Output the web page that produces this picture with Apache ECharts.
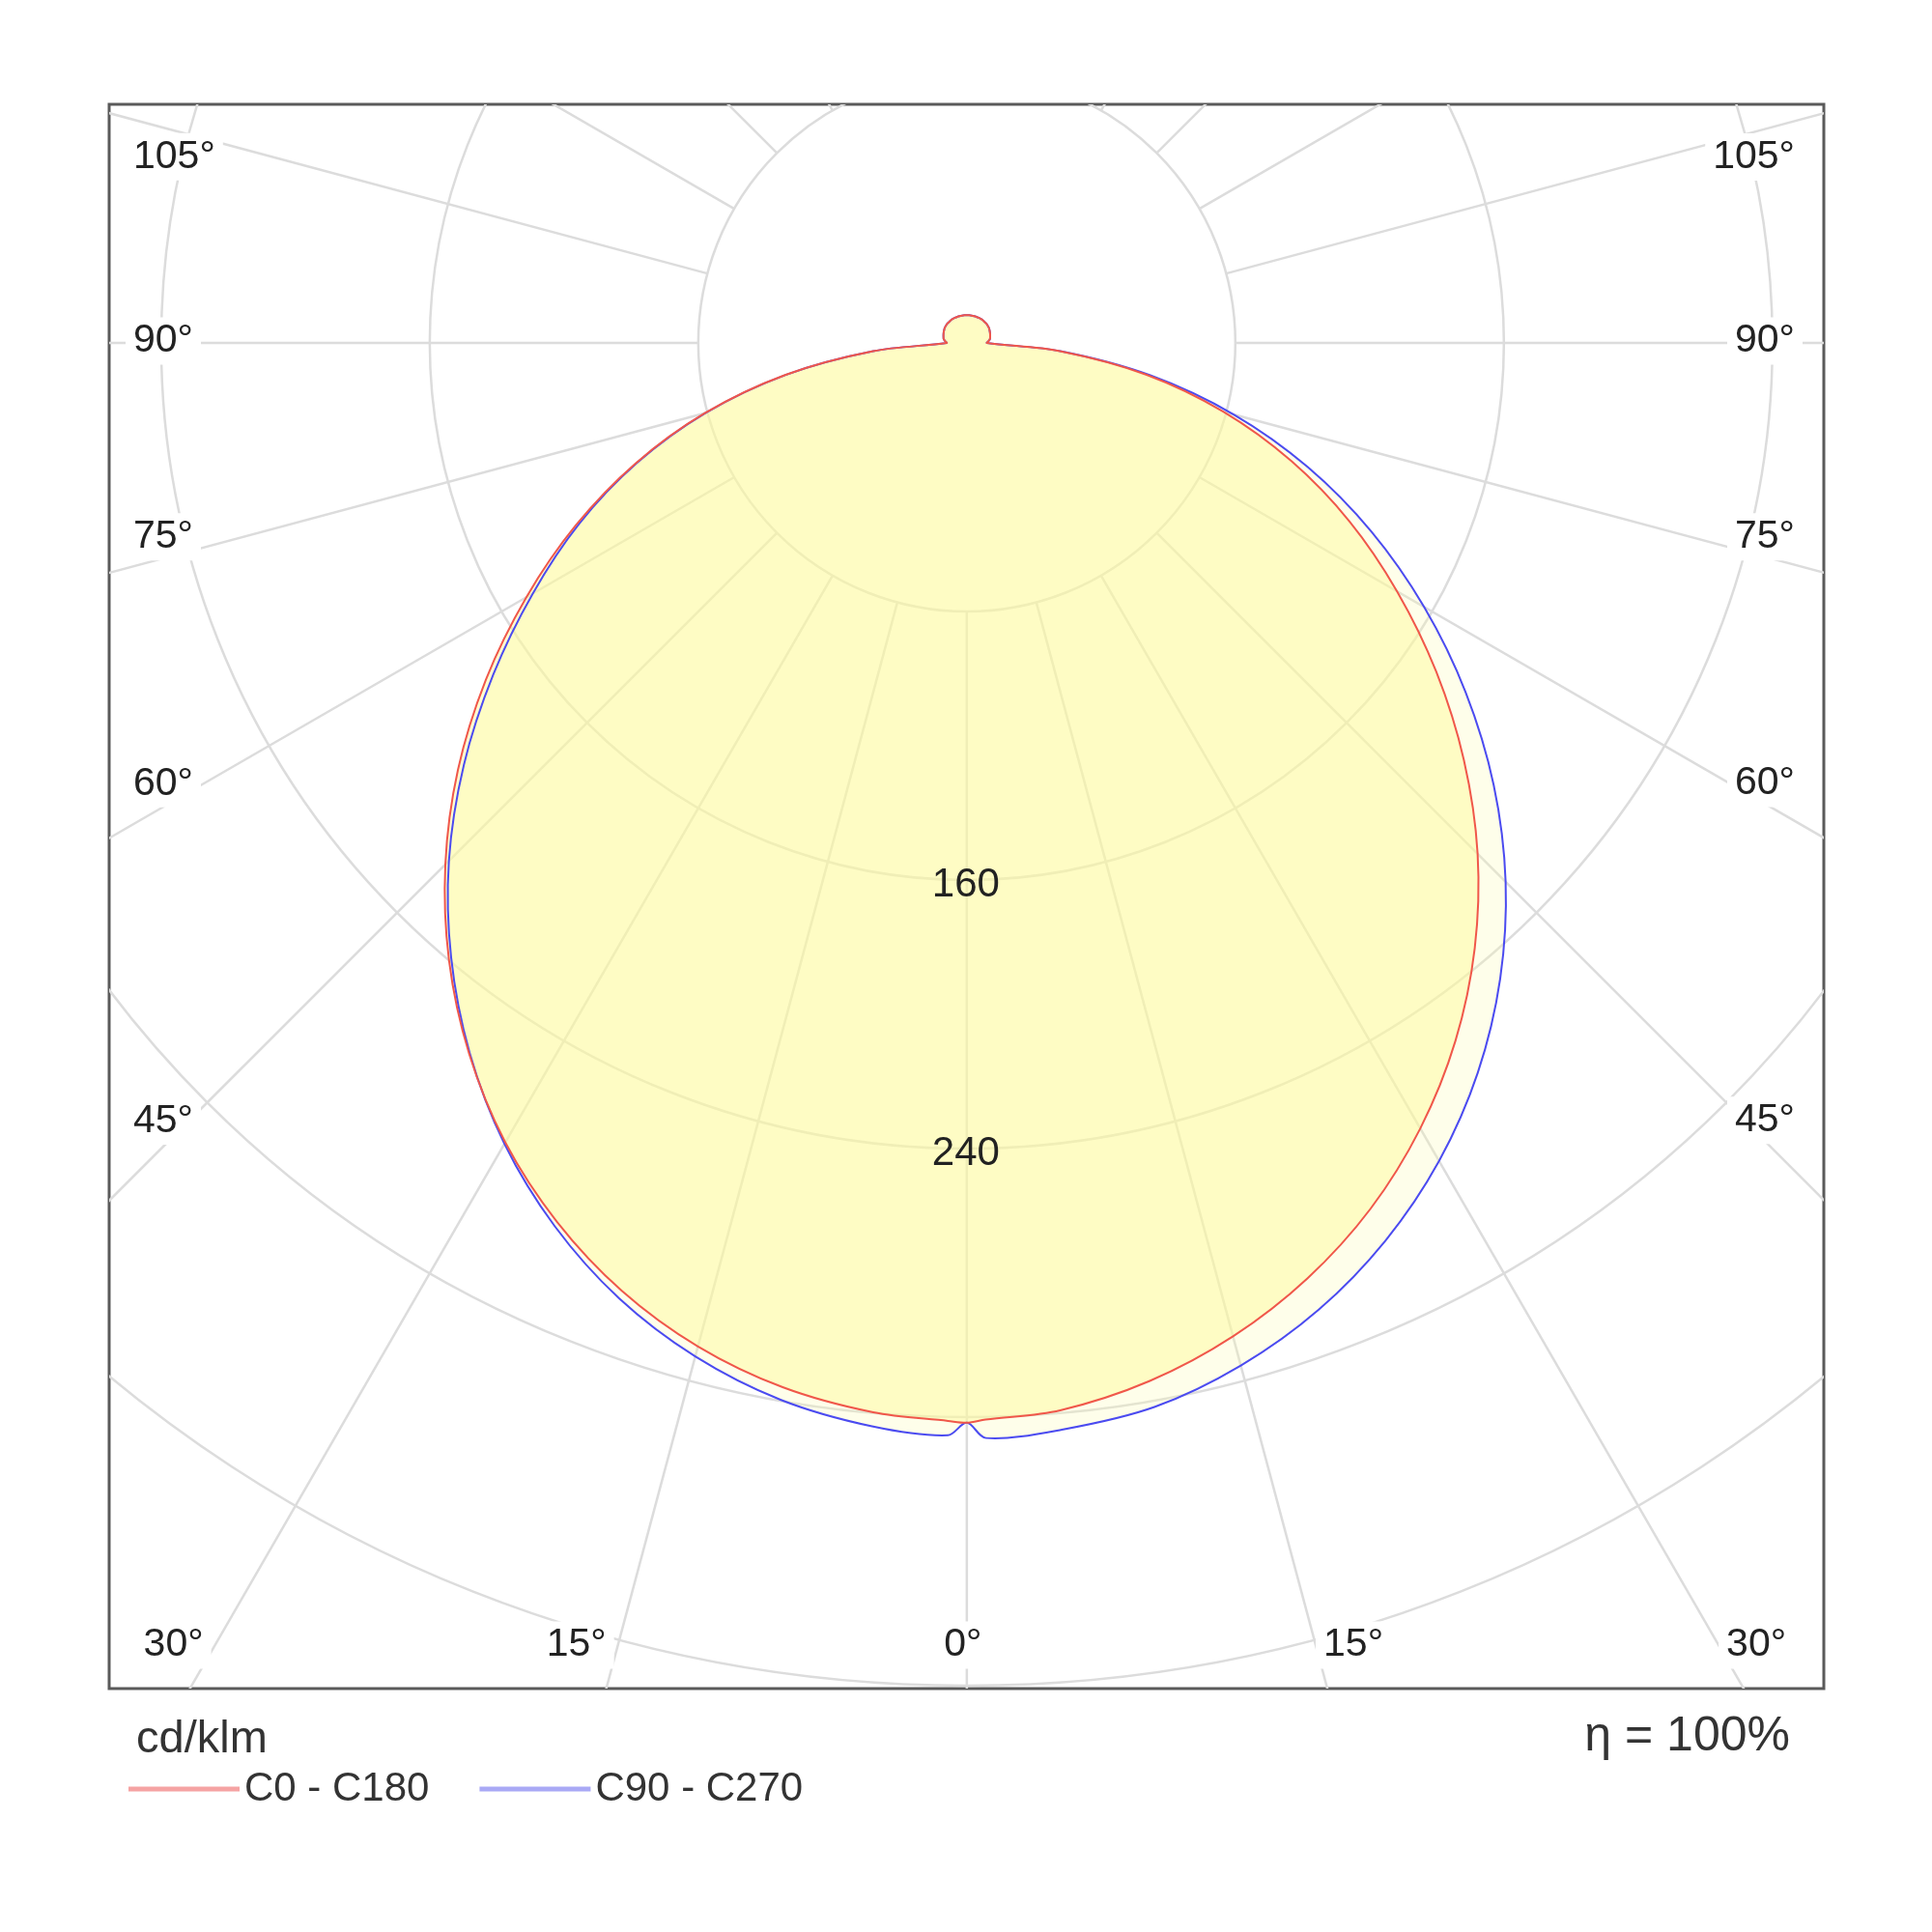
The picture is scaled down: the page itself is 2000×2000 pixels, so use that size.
<!DOCTYPE html>
<html>
<head>
<meta charset="utf-8">
<script src="https://cdn.jsdelivr.net/npm/echarts@6/dist/echarts.min.js"></script>
<style>
html,body{margin:0;padding:0;background:#fff;}
#chart{width:2000px;height:2000px;}
</style>
</head>
<body>
<div id="chart"></div>
<script>
// ---------- data (cd/klm) ----------
const angles = [0, 1, 5, 10, 15, 20, 25, 30, 35, 40, 45, 50, 55, 60, 65, 70, 75, 80, 85, 90,
  95, 100, 105, 110, 115, 120, 125, 130, 135, 140, 145, 150, 155, 160, 165, 170, 175, 180];
const c0 = [321.7, 320.8, 319.2, 314.0, 306.4, 296.6, 284.6, 270.2, 253.8, 235.4, 215.2, 193.3, 170.7, 148.0, 125.8, 102.9, 79.1, 54.2, 27.8, 6,
  6.5, 7, 7.2, 7.4, 7.6, 7.8, 8, 8.1, 8.2, 8.2, 8.3, 8.3, 8.3, 8.3, 8.3, 8.3, 8.3, 8.3];
const c180 = [321.7, 321.2, 319.8, 315.9, 309.5, 300.5, 288.9, 275.0, 258.5, 240.0, 219.7, 197.9, 174.9, 151.5, 128.5, 105.1, 80.8, 55.0, 28.0, 6,
  6.5, 7, 7.2, 7.4, 7.6, 7.8, 8, 8.1, 8.2, 8.2, 8.3, 8.3, 8.3, 8.3, 8.3, 8.3, 8.3, 8.3];
const c90 = [321.7, 326.3, 325.0, 321.9, 315.4, 306.5, 295.1, 281.4, 265.4, 247.2, 227.0, 204.9, 181.4, 157.3, 133.0, 108.1, 82.3, 55.5, 28.0, 6,
  6.5, 7, 7.2, 7.4, 7.6, 7.8, 8, 8.1, 8.2, 8.2, 8.3, 8.3, 8.3, 8.3, 8.3, 8.3, 8.3, 8.3];
const c270 = [321.7, 325.5, 324.0, 319.7, 312.6, 302.9, 290.4, 275.5, 258.2, 239.0, 218.2, 195.6, 172.2, 149.3, 127.4, 104.6, 80.5, 54.8, 28.0, 6,
  6.5, 7, 7.2, 7.4, 7.6, 7.8, 8, 8.1, 8.2, 8.2, 8.3, 8.3, 8.3, 8.3, 8.3, 8.3, 8.3, 8.3];

const ringValues = [80, 160, 240, 320, 400, 480];
const ringLabelValues = [160, 240];
const spokeAngles = [0, 15, 30, 45, 60, 75, 90, 105, 120, 135, 150, 165, 180, 195, 210, 225, 240, 255, 270, 285, 300, 315, 330, 345];
const spokeEnd = 700;
const angleLabelValues = [0, 15, 30, 45, 60, 75, 90, 105];

const seriesNames = ['C0 - C180', 'C90 - C270'];
const unitText = 'cd/klm';
const etaText = 'η = 100%';

// ---------- helpers ----------
const FONT = '"Liberation Sans", Arial, sans-serif';
const rad = d => d * Math.PI / 180;
function loopPoints(left, right) {
  const pts = [];
  for (let i = angles.length - 1; i >= 0; i--) {
    const a = rad(angles[i]);
    pts.push([-left[i] * Math.sin(a), left[i] * Math.cos(a)]);
  }
  for (let i = 1; i < angles.length - 1; i++) {
    const a = rad(angles[i]);
    pts.push([right[i] * Math.sin(a), right[i] * Math.cos(a)]);
  }
  return pts;
}
const redPts = loopPoints(c180, c0);
const bluePts = loopPoints(c270, c90);
const SMOOTH = 0.33;

function fillSeries(pts, color, z) {
  return {
    type: 'custom', z: z, silent: true, clip: true,
    data: [0],
    renderItem: (params, api) => ({
      type: 'polygon',
      shape: { points: pts.map(p => api.coord(p)), smooth: SMOOTH },
      style: { fill: color, stroke: 'none' }
    })
  };
}
function lineSeries(name, pts, color, z) {
  return {
    name: name, type: 'custom', z: z, silent: true, clip: true,
    data: [0],
    itemStyle: { color: color },
    renderItem: (params, api) => ({
      type: 'polygon',
      shape: { points: pts.map(p => api.coord(p)), smooth: SMOOTH },
      style: { fill: 'none', stroke: color, lineWidth: 2, lineJoin: 'round' }
    })
  };
}

const chart = echarts.init(document.getElementById('chart'), null, { renderer: 'canvas' });

const option = {
  animation: false,
  backgroundColor: '#fff',
  title: [
    { text: unitText, left: 136, top: 1773, textStyle: { fontFamily: FONT, fontSize: 47, fontWeight: 'normal', color: '#333' } },
    { text: etaText, right: 142, top: 1768, textStyle: { fontFamily: FONT, fontSize: 50, fontWeight: 'normal', color: '#333' } }
  ],
  legend: {
    left: 128, top: 1826, itemWidth: 115, itemHeight: 5, itemGap: 52,
    icon: 'rect',
    textStyle: { fontFamily: FONT, fontSize: 42, color: '#333' },
    data: [
      { name: seriesNames[0], itemStyle: { color: '#f5a3a3' } },
      { name: seriesNames[1], itemStyle: { color: '#a9a9f5' } }
    ]
  },
  grid: { left: 113, top: 108, width: 1775, height: 1640, show: true, borderColor: '#5a5a5a', borderWidth: 3, backgroundColor: '#fff' },
  xAxis: { type: 'value', min: -255.5, max: 255.3, show: false },
  yAxis: { type: 'value', min: -71.1, max: 400.9, inverse: true, show: false },
  series: [
    // polar grid
    {
      type: 'custom', z: 1, silent: true, clip: true, data: [0],
      renderItem: (params, api) => {
        const c = api.coord([0, 0]);
        const children = [];
        ringValues.forEach(R => {
          children.push({ type: 'circle', shape: { cx: c[0], cy: c[1], r: api.size([R, 0])[0] },
            style: { fill: 'none', stroke: '#dcdcdc', lineWidth: 2.5 } });
        });
        const r0 = api.size([ringValues[0], 0])[0];
        const r1 = api.size([spokeEnd, 0])[0];
        spokeAngles.forEach(d => {
          const s = Math.sin(rad(d)), co = Math.cos(rad(d));
          children.push({ type: 'line', shape: { x1: c[0] + r0 * s, y1: c[1] + r0 * co, x2: c[0] + r1 * s, y2: c[1] + r1 * co },
            style: { stroke: '#dcdcdc', lineWidth: 2.5 } });
        });
        return { type: 'group', children };
      }
    },
    fillSeries(bluePts, 'rgba(250,250,170,0.25)', 2),
    fillSeries(redPts, 'rgba(255,250,150,0.45)', 3),
    // ring value labels
    {
      type: 'custom', z: 4, silent: true, data: ringLabelValues,
      renderItem: (params, api) => {
        const v = ringLabelValues[params.dataIndex];
        const p = api.coord([0, v]);
        return { type: 'text', style: { text: String(v), x: p[0] - 1, y: p[1] + 5, align: 'center', verticalAlign: 'middle',
          fontFamily: FONT, fontSize: 42, fill: '#222' } };
      }
    },
    lineSeries(seriesNames[1], bluePts, '#4b4bf0', 5),
    lineSeries(seriesNames[0], redPts, '#f0574a', 6),
    // angle labels
    {
      type: 'custom', z: 7, silent: true, data: [0],
      renderItem: (params, api) => {
        const cs = params.coordSys;
        const L = cs.x, T = cs.y, R = cs.x + cs.width, B = cs.y + cs.height;
        const c = api.coord([0, 0]);
        const padV = 4, padH = 8;
        const children = [];
        const sides = [];
        angleLabelValues.forEach(a => { if (a === 0) sides.push([a, 0]); else { sides.push([a, -1]); sides.push([a, 1]); } });
        sides.forEach(([a, s]) => {
          const sn = Math.sin(rad(a)), co = Math.cos(rad(a));
          const tb = co > 1e-9 ? (B - c[1]) / co : Infinity;
          const tsd = s === 0 ? Infinity : ((s > 0 ? R - c[0] : c[0] - L) / sn);
          const st = { text: a + '°', fontFamily: FONT, fontSize: 41, fill: '#222', backgroundColor: '#fff', padding: [padV, padH] };
          if (tb < tsd) {
            const y = B - 45;
            const xr = c[0] + s * sn * (y - c[1]) / co;
            if (s < 0) { st.x = xr - 12 + padH; st.align = 'right'; }
            else if (s > 0) { st.x = xr + 8 - padH; st.align = 'left'; }
            else { st.x = xr - 4; st.align = 'center'; }
            st.y = y; st.verticalAlign = 'middle';
          } else {
            const xc = s < 0 ? L + 62 : R - 62;
            const yr = c[1] + co * Math.abs(xc - c[0]) / sn;
            st.x = s < 0 ? L + 25 - padH : R - 30 + padH;
            st.align = s < 0 ? 'left' : 'right';
            if (a < 90) { st.y = yr + padV; st.verticalAlign = 'bottom'; }
            else if (a === 90) { st.y = yr - 2; st.verticalAlign = 'middle'; }
            else { st.y = yr + 8 - padV; st.verticalAlign = 'top'; }
          }
          children.push({ type: 'text', style: st });
        });
        return { type: 'group', children };
      }
    }
  ]
};
chart.setOption(option);
</script>
</body>
</html>
